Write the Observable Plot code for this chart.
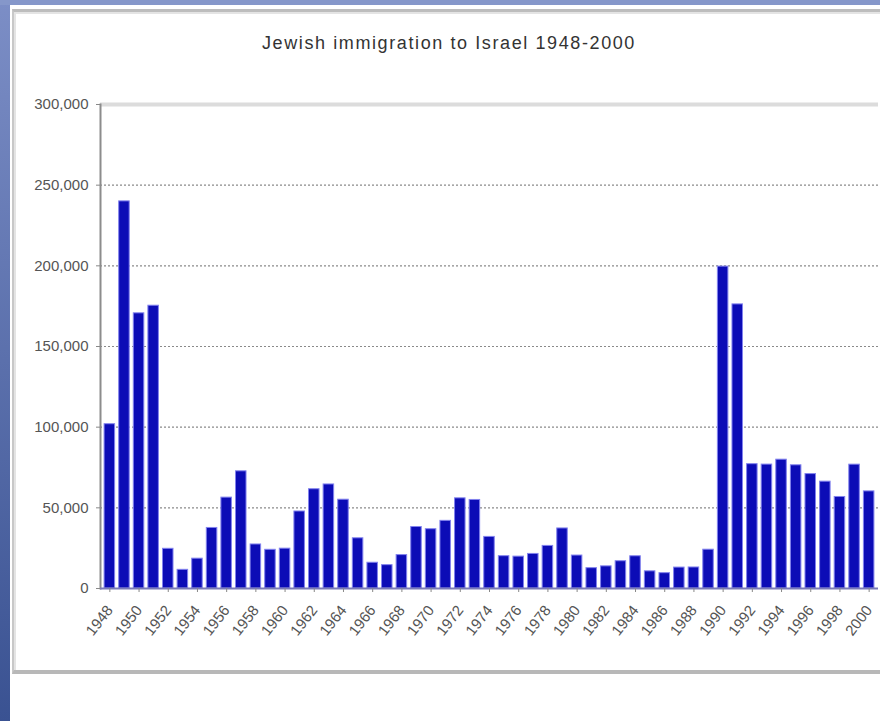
<!DOCTYPE html>
<html><head><meta charset="utf-8">
<script src="https://cdn.jsdelivr.net/npm/d3@7"></script>
<script src="https://cdn.jsdelivr.net/npm/@observablehq/plot@0.6"></script>
<style>
html,body{margin:0;padding:0;}
body{width:880px;height:721px;position:relative;overflow:hidden;background:#fff;font-family:"Liberation Sans",Arial,sans-serif;}
#leftband{position:absolute;left:0;top:0;width:10px;height:721px;background:linear-gradient(#7c8ec6,#3a5292);}
#topband{position:absolute;left:0;top:0;width:880px;height:5px;background:#8597ca;}
#frame{position:absolute;left:12px;top:9px;width:880px;height:658px;border-top:3px solid #bdbdbd;border-left:2px solid #c8c8c8;border-bottom:4px solid #b8b8b8;box-shadow:inset 2px 2px 0 #e4e4e4;}
#chart{position:absolute;left:0;top:0;}
#title{position:absolute;left:18px;width:862px;top:33px;text-align:center;font-size:18px;color:#333;letter-spacing:1.6px;}
</style></head>
<body>
<div id="leftband"></div>
<div id="topband"></div>
<div id="frame"></div>
<div id="chart"></div>
<div id="title">Jewish immigration to Israel 1948-2000</div>
<script>
const years = [1948,1949,1950,1951,1952,1953,1954,1955,1956,1957,1958,1959,1960,1961,1962,1963,1964,1965,1966,1967,1968,1969,1970,1971,1972,1973,1974,1975,1976,1977,1978,1979,1980,1981,1982,1983,1984,1985,1986,1987,1988,1989,1990,1991,1992,1993,1994,1995,1996,1997,1998,1999,2000];
const immigrants = [101828,239954,170563,175279,24610,11575,18491,37528,56330,72634,27290,23988,24692,47735,61533,64489,55036,31115,15957,14469,20703,38111,36750,41930,55888,54886,31979,20028,19754,21429,26394,37222,20428,12599,13723,16906,19981,10642,9505,12965,13034,24050,199516,176100,77057,76805,79844,76361,70919,66221,56730,76766,60192];
const tickYears = [1948,1950,1952,1954,1956,1958,1960,1962,1964,1966,1968,1970,1972,1974,1976,1978,1980,1982,1984,1986,1988,1990,1992,1994,1996,1998,2000];
const yTicks = [0,50000,100000,150000,200000,250000,300000];

const data = years.map((y, i) => ({year: y, value: immigrants[i]}));

const chart = Plot.plot({
  width: 880,
  height: 680,
  marginLeft: 100,
  marginRight: 2,
  marginTop: 104,
  marginBottom: 92,
  style: {background: "transparent", fontFamily: "Liberation Sans, Arial, sans-serif"},
  x: {type: "band", domain: years, padding: 0.28, align: 0.5},
  y: {domain: [0, 300000]},
  marks: [
    Plot.ruleY(yTicks.filter(d => d > 0 && d < 300000), {stroke: "#8a8a8a", strokeDasharray: "2,2", strokeWidth: 1.2}),
    Plot.ruleY([300000], {stroke: "#dcdcdc", strokeWidth: 4}),
    Plot.frame({anchor: "left", stroke: "#8c8c8c", strokeWidth: 2}),
    Plot.barY(data, {x: "year", y: "value", fill: "#0c0cb6", stroke: "#8282ee", strokeWidth: 1}),
    Plot.ruleY([0], {stroke: "#7a7ab8", strokeWidth: 2}),
    Plot.axisY({ticks: yTicks, tickFormat: d3.format(","), tickSize: 4, tickPadding: 8, fontSize: 15, fill: "#555", stroke: "#888", label: null}),
    Plot.axisX({ticks: tickYears, tickFormat: d => String(d), tickRotate: -52, tickSize: 4, tickPadding: 15, fontSize: 15, fill: "#555", stroke: "#888", label: null})
  ]
});
document.getElementById("chart").appendChild(chart);
</script>
</body></html>
